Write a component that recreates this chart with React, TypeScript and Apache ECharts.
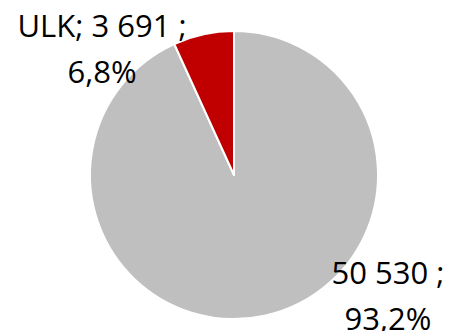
import React, { useEffect, useRef } from "react";
import * as echarts from "echarts";

const names = ["", "ULK"];
const values = [50530, 3691];
const percents = ["93,2", "6,8"];
const colors = ["#BFBFBF", "#C00000"];

const fmt = (v: number) => String(v).replace(/\B(?=(\d{3})+(?!\d))/g, " ");

export default function App() {
  const ref = useRef<HTMLDivElement>(null);
  useEffect(() => {
    const chart = echarts.init(ref.current!, null, { renderer: "svg" });
    const labelPos = [
      { x: 388, y: 295 },
      { x: 102, y: 48 },
    ];
    chart.setOption({
      animation: false,
      series: [
        {
          type: "pie",
          center: [234, 175],
          radius: 144,
          startAngle: 90,
          clockwise: true,
          data: values.map((v, i) => ({
            name: names[i],
            value: v,
            itemStyle: { color: colors[i] },
          })),
          itemStyle: { borderColor: "#ffffff", borderWidth: 2 },
          label: {
            show: true,
            position: "outside",
            color: "#000000",
            fontFamily: "Open Sans",
            fontSize: 31,
            lineHeight: 46,
            align: "center",
            overflow: "none",
            edgeDistance: 0,
            formatter: (p: any) =>
              (names[p.dataIndex] ? names[p.dataIndex] + "; " : "") +
              fmt(values[p.dataIndex]) +
              " ;\n" +
              percents[p.dataIndex] +
              "%",
          },
          labelLine: { show: false },
          labelLayout: (params: any) => ({
            x: labelPos[params.dataIndex].x,
            y: labelPos[params.dataIndex].y,
            align: "center",
            verticalAlign: "middle",
          }),
          emphasis: { disabled: true },
        },
      ],
    });
    return () => chart.dispose();
  }, []);
  return (
    <div
      ref={ref}
      style={{ position: "fixed", left: 0, top: 0, width: 454, height: 331, background: "#fff" }}
    />
  );
}
